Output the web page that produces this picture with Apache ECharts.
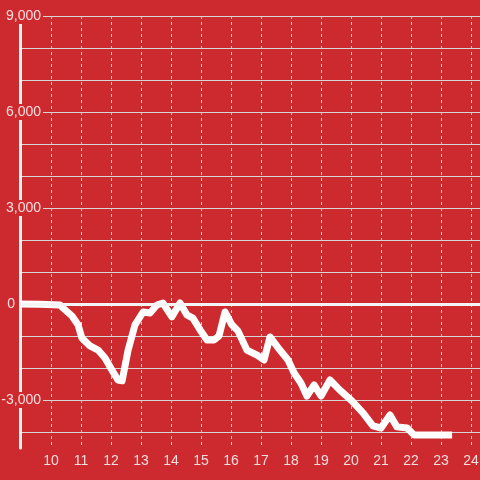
<!DOCTYPE html>
<html>
<head>
<meta charset="utf-8">
<script src="https://cdn.jsdelivr.net/npm/echarts@6/dist/echarts.min.js"></script>
<style>
html,body{margin:0;padding:0;background:#cd2a2f;}
#c{width:480px;height:480px;}
</style>
</head>
<body>
<div id="c"></div>
<script>
// x positions (hours) and series values
const xValues = [8.97, 9.63, 10.3, 10.4, 10.7, 10.9, 11.03, 11.3, 11.57, 11.8, 12.03, 12.23, 12.37, 12.57, 12.8, 13.07, 13.3, 13.53, 13.73, 14.03, 14.3, 14.53, 14.73, 14.97, 15.2, 15.43, 15.6, 15.8, 16.03, 16.23, 16.53, 16.87, 17.1, 17.3, 17.63, 17.9, 18.1, 18.33, 18.53, 18.77, 19.0, 19.3, 19.63, 20.03, 20.4, 20.73, 21.0, 21.3, 21.53, 21.87, 22.1, 23.37];
const yValues = [0, -10, -30, -125, -375, -650, -1060, -1310, -1440, -1690, -2060, -2375, -2400, -1440, -650, -250, -280, -30, 30, -400, 30, -340, -440, -810, -1125, -1125, -1000, -250, -650, -840, -1440, -1600, -1750, -1030, -1440, -1750, -2150, -2470, -2875, -2530, -2875, -2375, -2690, -3030, -3400, -3810, -3875, -3470, -3840, -3875, -4090, -4090];
const xTickLabels = [10, 11, 12, 13, 14, 15, 16, 17, 18, 19, 20, 21, 22, 23, 24];
const yGridValues = [-4000, -3000, -2000, -1000, 0, 1000, 2000, 3000, 4000, 5000, 6000, 7000, 8000, 9000];
const yTickLabels = [-3000, 0, 3000, 6000, 9000];

const bg = '#cd2a2f';
const txt = '#f5dede';
const gridCol = '#d6d6d6';

const chart = echarts.init(document.getElementById('c'), null, {renderer: 'canvas'});
chart.setOption({
  backgroundColor: bg,
  animation: false,
  grid: {left: 20, right: 0, top: 16, bottom: 32, containLabel: false, outerBoundsMode: 'none'},
  xAxis: {
    type: 'value', min: 8.9667, max: 24.3,
    axisLine: {show: false},
    axisTick: {show: false, customValues: xTickLabels},
    axisLabel: {customValues: xTickLabels, color: txt, fontSize: 14, margin: 6, fontFamily: 'Liberation Sans'},
    splitLine: {show: true, lineStyle: {color: gridCol, width: 1, type: [3, 3]}}
  },
  yAxis: {
    type: 'value', min: -4500, max: 9000,
    axisLine: {show: true, onZero: false, lineStyle: {color: '#f4f4f4', width: 3}},
    axisTick: {show: false, customValues: yGridValues},
    axisLabel: {
      customValues: yTickLabels, inside: true, align: 'right', margin: 23,
      formatter: function (v) {
        if (v === 0) return '{z|0}';
        return '{n|' + echarts.format.addCommas(v) + '}';
      },
      rich: {
        n: {color: txt, fontSize: 14, fontFamily: 'Liberation Sans', backgroundColor: bg, padding: [1, 2, 1, 2]},
        z: {color: txt, fontSize: 14, fontFamily: 'Liberation Sans', padding: [0, 28, 0, 0]}
      }
    },
    splitLine: {show: true, lineStyle: {color: gridCol, width: 1}}
  },
  series: [{
    type: 'line',
    data: xValues.map((x, i) => [x, yValues[i]]),
    showSymbol: false,
    symbol: 'none',
    lineStyle: {color: '#ffffff', width: 7, join: 'round'},
    markLine: {
      silent: true,
      symbol: ['none', 'none'],
      label: {show: false},
      lineStyle: {color: '#f4f4f4', width: 3, type: 'solid'},
      data: [{yAxis: 0}]
    }
  }]
});
</script>
</body>
</html>
